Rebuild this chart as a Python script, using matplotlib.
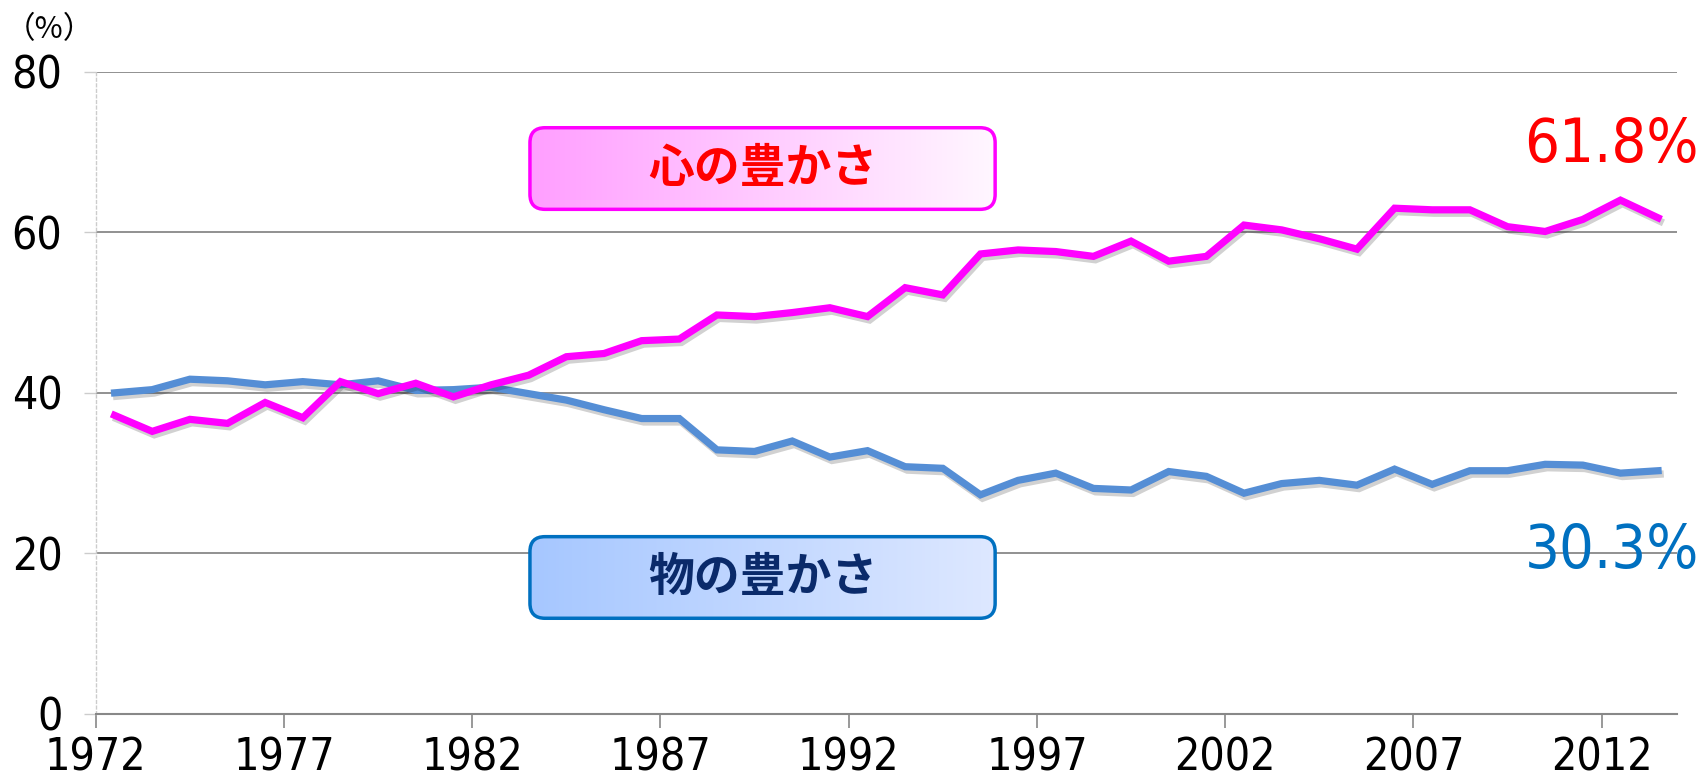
import numpy as np
import matplotlib
matplotlib.use("Agg")
import matplotlib.pyplot as plt
from matplotlib import font_manager
from matplotlib.patches import FancyBboxPatch
import matplotlib.patheffects as pe

# survey years and shares (%)
years = np.arange(1972, 2014)
kokoro = [37.2, 35.2, 36.7, 36.2, 38.8, 36.9, 41.4, 39.9, 41.2, 39.5,
          41.0, 42.2, 44.5, 44.9, 46.5, 46.7, 49.7, 49.5, 50.0, 50.6,
          49.5, 53.1, 52.2, 57.3, 57.8, 57.6, 57.0, 58.9, 56.4, 57.0,
          60.9, 60.3, 59.2, 57.9, 63.0, 62.8, 62.8, 60.7, 60.1, 61.6,
          64.0, 61.8]
mono = [40.0, 40.4, 41.7, 41.5, 41.0, 41.4, 41.0, 41.5, 40.3, 40.4,
        40.7, 39.9, 39.1, 37.9, 36.8, 36.8, 32.9, 32.7, 34.0, 32.0,
        32.8, 30.8, 30.6, 27.3, 29.1, 30.0, 28.1, 27.9, 30.2, 29.6,
        27.5, 28.7, 29.1, 28.5, 30.5, 28.6, 30.3, 30.3, 31.1, 31.0,
        30.0, 30.3]
tick_years = list(range(1972, 2013, 5))
y_ticks = [0, 20, 40, 60, 80]

# look for a narrow sans font for the numbers
num_prop = None
for f in font_manager.fontManager.ttflist:
    tag = (f.name + " " + f.fname).lower()
    if ("narrow" in tag or "condensed" in tag) and "bold" not in tag and "italic" not in tag \
            and "oblique" not in tag and "mono" not in tag and "serif" not in f.name.lower() \
            and "light" not in tag:
        num_prop = font_manager.FontProperties(fname=f.fname)
        break
if num_prop is None:
    num_prop = font_manager.FontProperties(family="Liberation Sans")
jp_font = ["Noto Sans CJK JP", "DejaVu Sans"]


def nf(size):
    p = num_prop.copy()
    p.set_size(size)
    return p


fig = plt.figure(figsize=(17.04, 7.77), dpi=100)
ax = fig.add_axes([0.0562, 0.0811, 0.9279, 0.8266])

x = years + 0.5
shadow = [pe.SimpleLineShadow(offset=(1.5, -2.5), shadow_color="k", alpha=0.18), pe.Normal()]
ax.plot(x, mono, color="#558ED5", lw=5.2, solid_joinstyle="miter", zorder=3, path_effects=shadow)
ax.plot(x, kokoro, color="#FF00FF", lw=5.2, solid_joinstyle="miter", zorder=4, path_effects=shadow)

ax.set_xlim(1972, 2014)
ax.set_ylim(0, 80)
ax.set_xticks(tick_years)
ax.set_xticklabels([str(t) for t in tick_years], fontproperties=nf(32))
ax.set_yticks(y_ticks)
ax.set_yticklabels([str(t) for t in y_ticks], fontproperties=nf(32))
ax.tick_params(axis="x", length=10, width=1.2, color="#888888", pad=6)
ax.tick_params(axis="y", length=9, width=1, color="#cccccc", pad=15)
for yv in y_ticks[1:]:
    ax.axhline(yv, color="#888888", lw=1.3, zorder=1)
for s in ["top", "right"]:
    ax.spines[s].set_visible(False)
ax.spines["bottom"].set_color("#888888")
ax.spines["bottom"].set_linewidth(1.5)
ax.spines["left"].set_color("#cccccc")
ax.spines["left"].set_linestyle((0, (2, 2)))
ax.spines["left"].set_linewidth(1)

fig.text(0.003, 0.962, "（%）", fontsize=22, family=jp_font, ha="left", va="center")
fig.text(0.997, 0.813, "61.8%", fontproperties=nf(44), color="#FF0000", ha="right", va="center")
fig.text(0.997, 0.290, "30.3%", fontproperties=nf(44), color="#0070C0", ha="right", va="center")


def label_box(rect, c_left, c_right, edge, text, tcolor):
    bax = fig.add_axes(rect, zorder=5)
    bax.set_axis_off()
    bax.set_xlim(0, 1)
    bax.set_ylim(0, 1)
    w_px = rect[2] * 1704
    h_px = rect[3] * 777
    t = np.linspace(0, 1, 256)[None, :, None]
    grad = (1 - t) * np.array(c_left)[None, None, :] + t * np.array(c_right)[None, None, :]
    patch = FancyBboxPatch((0.004, 0.02), 0.992, 0.96,
                           boxstyle="round,pad=0,rounding_size=0.032",
                           mutation_aspect=w_px / h_px,
                           transform=bax.transAxes, fc="none", ec=edge, lw=2.5, zorder=3, clip_on=False)
    im = bax.imshow(grad, extent=(0, 1, 0, 1), aspect="auto", zorder=1)
    bax.add_patch(patch)
    im.set_clip_path(patch)
    bax.text(0.5, 0.5, text, fontsize=33, fontweight="bold", color=tcolor, family=jp_font,
             ha="center", va="center", zorder=4)


label_box([0.3099, 0.7284, 0.2752, 0.1094], (1.0, 0.62, 1.0), (1.0, 0.97, 1.0),
          "#FF00FF", "心の豊かさ", "#FF0000")
label_box([0.3099, 0.2021, 0.2752, 0.1094], (0.65, 0.78, 1.0), (0.87, 0.91, 1.0),
          "#0070C0", "物の豊かさ", "#0A2A6A")

fig.savefig("out.png", dpi=100)
